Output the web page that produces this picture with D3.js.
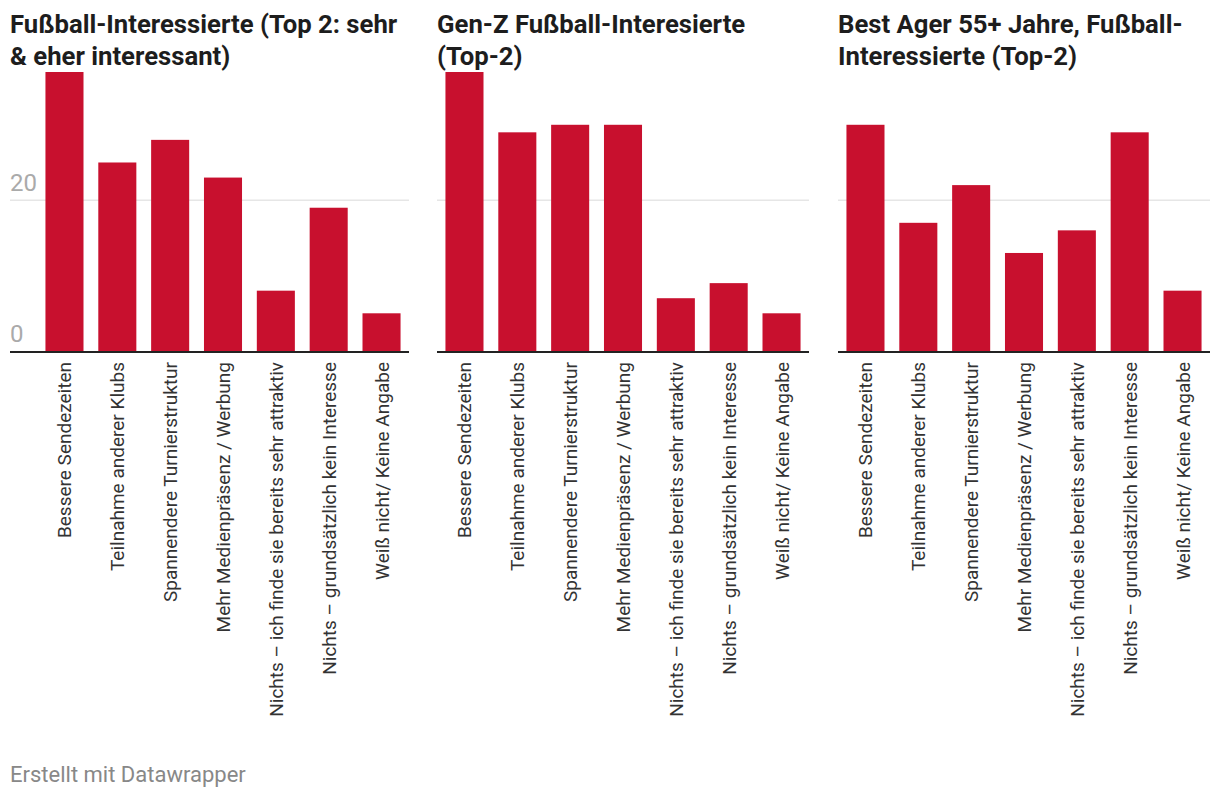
<!DOCTYPE html>
<html>
<head>
<meta charset="utf-8">
<script src="https://cdn.jsdelivr.net/npm/d3@7"></script>
<style>
  body { margin: 0; background: #fff; font-family: Roboto, "Noto Sans", sans-serif; }
</style>
</head>
<body>
<main></main>
<script>
const categories = [
  'Bessere Sendezeiten',
  'Teilnahme anderer Klubs',
  'Spannendere Turnierstruktur',
  'Mehr Medienpräsenz / Werbung',
  'Nichts – ich finde sie bereits sehr attraktiv',
  'Nichts – grundsätzlich kein Interesse',
  'Weiß nicht/ Keine Angabe',
];

const titles = [
  ['Fußball-Interessierte (Top 2: sehr', '& eher interessant)'],
  ['Gen-Z Fußball-Interesierte', '(Top-2)'],
  ['Best Ager 55+ Jahre, Fußball-', 'Interessierte (Top-2)'],
];

const valuesAll = [37, 25, 28, 23, 8, 19, 5];
const valuesGenZ = [37, 29, 30, 30, 7, 9, 5];
const valuesBestAger = [30, 17, 22, 13, 16, 29, 8];

const yTicks = [0, 20];
const footer = 'Erstellt mit Datawrapper';

const panels = [valuesAll, valuesGenZ, valuesBestAger].map((values, i) => ({
  title: titles[i],
  values,
}));

const dimensions = {
  width: 1220,
  height: 798,
  plotTop: 72,
  baseline: 351,
  plotWidth: 372,
  plotLefts: [37, 437, 838],
  labelLeft: 10,
};

const svg = d3
  .select('main')
  .append('svg')
  .attr('width', dimensions.width)
  .attr('height', dimensions.height);

const yScale = d3
  .scaleLinear()
  .domain([0, d3.max(panels, p => d3.max(p.values))])
  .range([dimensions.baseline, dimensions.plotTop]);

panels.forEach((panel, i) => {
  const left = dimensions.plotLefts[i];
  const g = svg.append('g');

  const xScale = d3
    .scaleBand()
    .domain(categories)
    .range([left, left + dimensions.plotWidth])
    .paddingInner(0.28)
    .paddingOuter(0.16);

  // title, two lines
  const titleX = i === 0 ? dimensions.labelLeft : left;
  g.append('text')
    .attr('font-size', 25.7)
    .attr('font-weight', 700)
    .attr('fill', '#1d1d1d')
    .selectAll('tspan')
    .data(panel.title)
    .join('tspan')
    .attr('x', titleX)
    .attr('y', (d, j) => 33 + j * 32)
    .text(d => d);

  // grid
  const gridStart = i === 0 ? dimensions.labelLeft : left;
  g.append('g')
    .selectAll('line')
    .data(yTicks.filter(t => t > 0))
    .join('line')
    .attr('x1', gridStart)
    .attr('x2', left + dimensions.plotWidth)
    .attr('y1', d => yScale(d))
    .attr('y2', d => yScale(d))
    .attr('stroke', '#e6e6e6')
    .attr('stroke-width', 1.5);

  if (i === 0) {
    g.append('g')
      .selectAll('text')
      .data(yTicks)
      .join('text')
      .attr('x', dimensions.labelLeft)
      .attr('y', d => yScale(d) - 9)
      .attr('font-size', 24)
      .attr('fill', '#aaaaaa')
      .text(d => d);
  }

  g.append('g')
    .selectAll('rect')
    .data(panel.values)
    .join('rect')
    .attr('x', (d, j) => xScale(categories[j]))
    .attr('width', xScale.bandwidth())
    .attr('y', d => yScale(d))
    .attr('height', d => dimensions.baseline - yScale(d))
    .attr('fill', '#c8102e');

  // baseline
  g.append('line')
    .attr('x1', gridStart)
    .attr('x2', left + dimensions.plotWidth)
    .attr('y1', dimensions.baseline + 1)
    .attr('y2', dimensions.baseline + 1)
    .attr('stroke', '#222')
    .attr('stroke-width', 2);

  // rotated category labels
  const xAxis = d3.axisBottom(xScale).tickSize(0).tickPadding(0);
  const axisG = g
    .append('g')
    .attr('transform', `translate(0 ${dimensions.baseline})`)
    .call(xAxis);
  axisG.select('path').remove();
  axisG
    .selectAll('text')
    .attr('font-family', 'Roboto, sans-serif')
    .attr('font-size', 19)
    .attr('fill', '#333')
    .attr('text-anchor', 'end')
    .attr('dy', null)
    .attr('y', 0)
    .attr('transform', 'translate(7 11) rotate(-90)');
});

svg
  .append('text')
  .attr('x', dimensions.labelLeft)
  .attr('y', 782)
  .attr('font-size', 22)
  .attr('fill', '#888')
  .text(footer);
</script>
</body>
</html>
